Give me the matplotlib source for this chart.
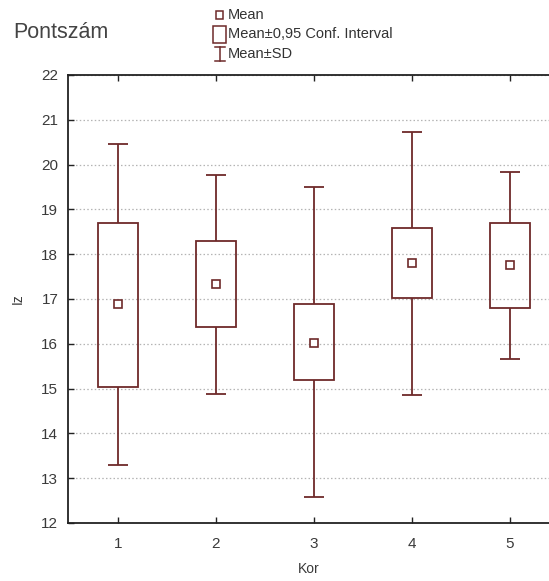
import numpy as np
import matplotlib.pyplot as plt
from matplotlib.patches import Rectangle
from matplotlib.lines import Line2D

plt.rcParams["font.family"] = ["Liberation Sans", "DejaVu Sans"]

# values
groups = [1, 2, 3, 4, 5]
means = [16.88, 17.33, 16.02, 17.80, 17.77]
ci_low = [15.03, 16.37, 15.19, 17.02, 16.79]
ci_high = [18.69, 18.29, 16.89, 18.59, 18.69]
sd_low = [13.30, 14.89, 12.57, 14.86, 15.65]
sd_high = [20.46, 19.77, 19.51, 20.72, 19.83]

col = "#6e2a2a"
W, H = 549, 581

fig = plt.figure(figsize=(W / 100, H / 100), dpi=100)
fig.patch.set_facecolor("white")

left, right, top, bottom = 68, 549, 75, 523
ax = fig.add_axes([left / W, 1 - bottom / H, (right - left) / W, (bottom - top) / H])

ax.set_xlim(0.49, 5.398)
ax.set_ylim(12, 22)
ax.set_yticks(range(12, 23))
ax.set_xticks(groups)

ax.yaxis.grid(True, color="#b4b4b4", linestyle=(0, (1.2, 1.8)), linewidth=0.9)
ax.set_axisbelow(True)

box_w = 0.405
cap_w = 0.204
x = np.array(groups, dtype=float)
lo = np.array(ci_low)
hi = np.array(ci_high)

ax.bar(x, hi - lo, bottom=lo, width=box_w, fill=False, edgecolor=col, linewidth=1.3, zorder=3)
ax.vlines(x, sd_low, ci_low, color=col, linewidth=1.3, zorder=3)
ax.vlines(x, ci_high, sd_high, color=col, linewidth=1.3, zorder=3)
ax.hlines(sd_low, x - cap_w / 2, x + cap_w / 2, color=col, linewidth=1.3, zorder=3)
ax.hlines(sd_high, x - cap_w / 2, x + cap_w / 2, color=col, linewidth=1.3, zorder=3)
ax.plot(x, means, linestyle="none", marker="s", markersize=5.8, markerfacecolor="white",
        markeredgecolor=col, markeredgewidth=1.2, zorder=4)

for s in ["left", "top", "bottom"]:
    ax.spines[s].set_linewidth(1.3)
    ax.spines[s].set_color("#222222")
ax.spines["right"].set_visible(False)

ax.tick_params(axis="both", direction="in", length=4, width=1, colors="#222222",
               labelsize=11, labelcolor="#3a3a3a")
ax.tick_params(axis="x", top=True, pad=10)
ax.tick_params(axis="y", pad=7)

ax.set_xlabel("Kor", fontsize=10, color="#3a3a3a", labelpad=8)
ax.set_ylabel("Iz", fontsize=10, color="#3a3a3a", labelpad=12)

fig.text(13 / W, 1 - 33 / H, "Pontszám", fontsize=15.5, color="#444444", va="center", ha="left")

# legend drawn in figure pixels
def fx(px):
    return px / W

def fy(py):
    return 1 - py / H

fig.add_artist(Rectangle((fx(216), fy(18.5)), 7 / W, 7 / H, transform=fig.transFigure,
                         fill=False, edgecolor=col, linewidth=1.1))
fig.add_artist(Rectangle((fx(213), fy(43)), 13 / W, 17 / H, transform=fig.transFigure,
                         fill=False, edgecolor=col, linewidth=1.1))
fig.add_artist(Line2D([fx(219.5), fx(219.5)], [fy(47), fy(61)], transform=fig.transFigure,
                      color=col, linewidth=1.1))
fig.add_artist(Line2D([fx(214.5), fx(224.5)], [fy(47), fy(47)], transform=fig.transFigure,
                      color=col, linewidth=1.1))
fig.add_artist(Line2D([fx(214.5), fx(224.5)], [fy(61), fy(61)], transform=fig.transFigure,
                      color=col, linewidth=1.1))

leg_kw = dict(fontsize=10.5, color="#333333", va="center", ha="left")
fig.text(fx(228), fy(15), "Mean", **leg_kw)
fig.text(fx(228), fy(34), "Mean±0,95 Conf. Interval", **leg_kw)
fig.text(fx(228), fy(54), "Mean±SD", **leg_kw)

fig.savefig("out.png", dpi=100, facecolor="white")
